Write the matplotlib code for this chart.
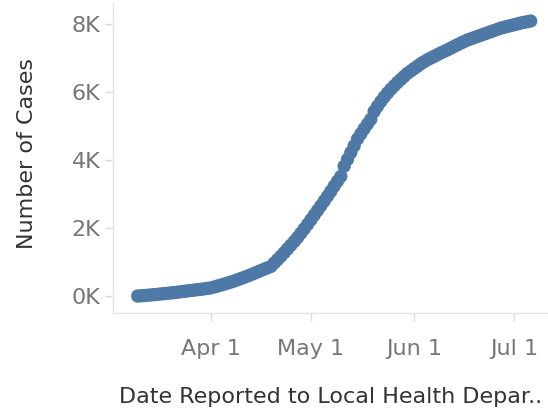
import matplotlib
matplotlib.use("Agg")
import matplotlib.pyplot as plt
from matplotlib.ticker import FuncFormatter
import pandas as pd

# cumulative reported cases, one value per day starting 2020-03-10
start_date = "2020-03-10"
cases = [
    0, 6, 14, 22, 31, 40,
    50, 60, 70, 80, 90,
    101, 113, 125, 137, 150,
    162, 174, 186, 198, 210,
    225, 240,
    266, 293, 320,
    350, 380, 410,
    443, 478, 514, 550,
    588, 627, 667, 708, 750,
    790, 830, 870,
    970, 1070, 1170,
    1275, 1385, 1495, 1605, 1720,
    1845, 1975, 2105, 2240, 2380,
    2515, 2655, 2795, 2935, 3080,
    3230, 3380, 3520,
    3820,
    4020, 4220, 4420, 4620,
    4770, 4920, 5060, 5200,
    5430,
    5580, 5720, 5850, 5970, 6080,
    6180, 6280, 6370, 6460, 6550,
    6620, 6690, 6760, 6830, 6890, 6950, 7000,
    7050, 7100, 7150, 7195, 7240,
    7290, 7340, 7390, 7440, 7485, 7530,
    7565, 7600, 7635, 7670, 7705, 7740, 7775, 7810, 7845, 7880,
    7905, 7930, 7955, 7980, 8005, 8030, 8050, 8070, 8090,
]
dates = pd.date_range(start_date, periods=len(cases), freq="D")

x_ticks = ["2020-04-01", "2020-05-01", "2020-06-01", "2020-07-01"]
x_tick_labels = ["Apr 1", "May 1", "Jun 1", "Jul 1"]
y_ticks = [0, 2000, 4000, 6000, 8000]

fig = plt.figure(figsize=(5.48, 4.09), dpi=100)
ax = fig.add_axes([113 / 548, 1 - 313 / 409, 435 / 548, 310 / 409])

ax.scatter(dates, cases, s=92, color="#4e79a7", edgecolors="none", zorder=3)

ax.set_xlim(pd.Timestamp("2020-03-02 14:00"), pd.Timestamp("2020-07-11 05:00"))
ax.set_ylim(-500, 8620)

ax.set_xticks(pd.to_datetime(x_ticks))
ax.set_xticklabels(x_tick_labels)
ax.set_yticks(y_ticks)
ax.yaxis.set_major_formatter(FuncFormatter(lambda v, p: f"{int(v / 1000)}K"))

for side in ["top", "right"]:
    ax.spines[side].set_visible(False)
for side in ["left", "bottom"]:
    ax.spines[side].set_color("#e4e4e4")
    ax.spines[side].set_linewidth(1.0)

ax.tick_params(axis="both", colors="#dcdcdc", labelcolor="#777777", labelsize=16, length=6, width=1)
ax.tick_params(axis="y", pad=3)
ax.tick_params(axis="x", pad=13)

ax.set_ylabel("Number of Cases", fontsize=16, color="#333333")
ax.yaxis.set_label_coords(-0.175, 0.515)
ax.set_xlabel("Date Reported to Local Health Depar..", fontsize=16, color="#333333")
ax.xaxis.set_label_coords(0.5, -0.24)

fig.savefig("out.png", dpi=100)
